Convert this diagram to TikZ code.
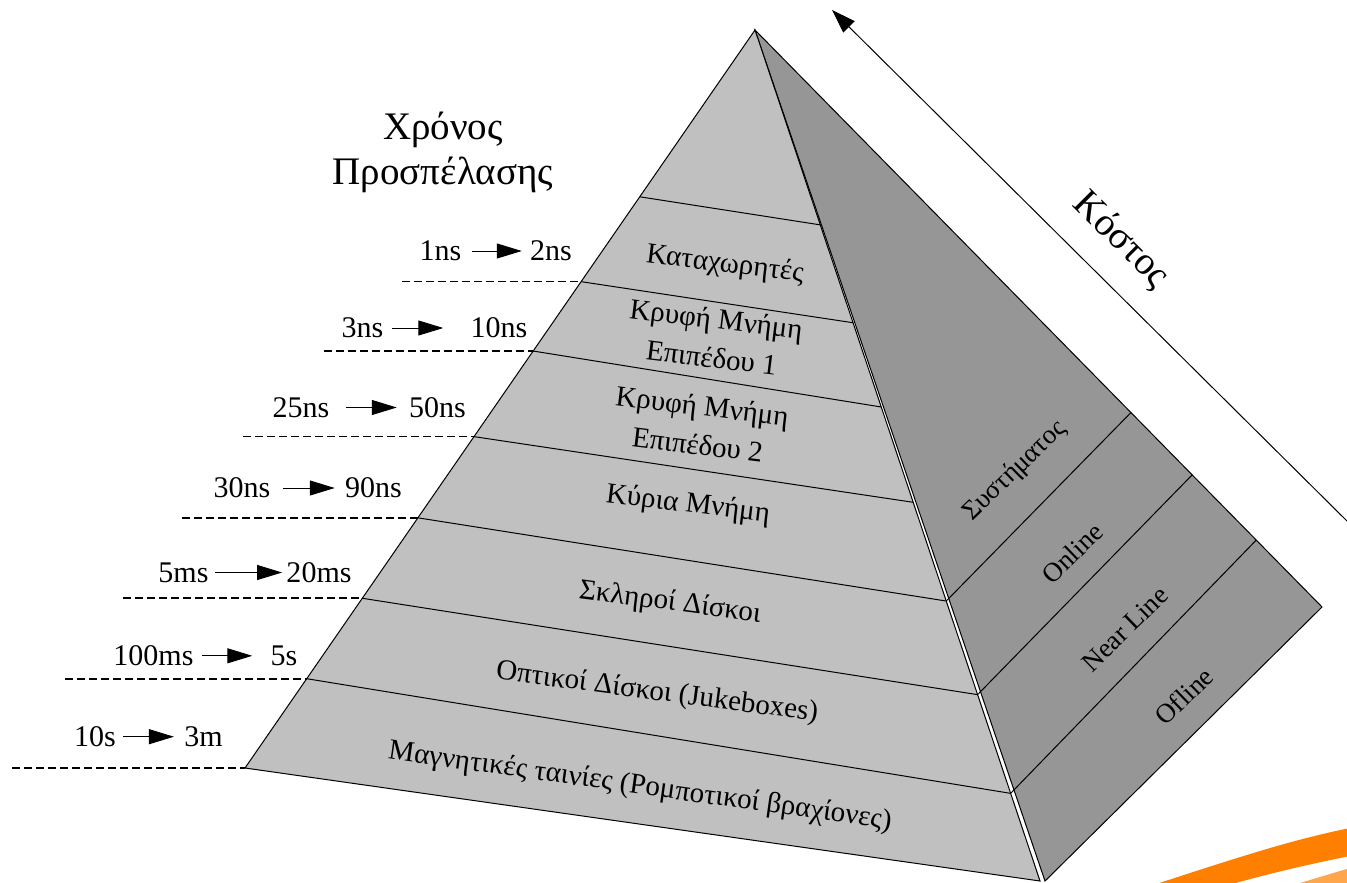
\documentclass[tikz,border=0pt]{standalone}
\usepackage{fontspec}
\setmainfont{Liberation Serif}
\usepackage{xcolor}
\usetikzlibrary{arrows.meta, calc}

\definecolor{frontgray}{RGB}{192,192,192}
\definecolor{sidegray}{RGB}{150,150,150}
\definecolor{swooshorange}{RGB}{255,128,0}

\begin{document}
\begin{tikzpicture}[x=0.5pt, y=-0.5pt,
  band/.style={align=center, font=\fontsize{14.5}{19.5}\selectfont},
  sidelabel/.style={font=\fontsize{13.5}{16}\selectfont, rotate=44},
  title/.style={align=center, font=\fontsize{19.5}{22.5}\selectfont},
  timelabel/.style={inner sep=0pt, font=\fontsize{15}{17}\selectfont},
  timearrow/.style={-{Triangle[length=12.5pt, width=7.5pt]}, line width=0.5pt},
  leader/.style={dash pattern=on 4pt off 2pt, line width=0.8pt}]
\useasboundingbox (0,0) rectangle (1347,882);
% Pyramid corners
\coordinate (top) at (755,30);
\coordinate (bl) at (245,768);
\coordinate (bf) at (1040,881);
\coordinate (bf2) at (1045,881);
\coordinate (br) at (1322,607);
% Side face
\filldraw[fill=sidegray, line width=0.5pt] (top) -- (bf2) -- (br) -- cycle;
% Front face
\filldraw[fill=frontgray, line width=0.5pt] (top) -- (bl) -- (bf) -- cycle;
% Levels on the front face
\foreach \i/\tl/\tr in {0/0.226/0.229, 1/0.341/0.344, 2/0.435/0.443, 3/0.551/0.555,
                       4/0.661/0.671, 5/0.770/0.781, 6/0.879/0.897} {
  \coordinate (lft\i) at ($(top)!\tl!(bl)$);
  \coordinate (rgt\i) at ($(top)!\tr!(bf)$);
  \draw[line width=0.5pt] (lft\i) -- (rgt\i);
}
% Levels on the side face
\foreach \i/\u in {4/0.663, 5/0.771, 6/0.884} {
  \coordinate (back\i) at ($(top)!\u!(br)$);
  \draw[line width=0.5pt] (rgt\i) -- (back\i);
}
% Dashed leaders
\foreach \i/\t/\x in {1/0.341/402, 2/0.435/324, 3/0.551/243, 4/0.661/182,
                      5/0.770/123, 6/0.879/65, 7/1/12} {
  \coordinate (edge\i) at ($(top)!\t!(bl)$);
  \coordinate (dash\i) at (\x,0);
  \draw[leader] (dash\i |- edge\i) -- (edge\i);
}
% Access times
\foreach \i/\fa/\fx/\ta/\tx/\y/\sa/\sb in {
  1/1ns/440.5/2ns/551/251/5/4,
  2/3ns/362.5/10ns/499/328/4/13.5,
  3/25ns/301/50ns/437.5/407.5/8/6,
  4/30ns/242/90ns/373.5/488/6/5,
  5/5ms/183.5/20ms/319/572.5/3/2,
  6/100ms/153.5/5s/284/655.8/4/9,
  7/10s/95/3m/203.5/736.7/3.5/5} {
  \node[timelabel] (from\i) at (\fx,\y) {\fa};
  \node[timelabel] (to\i) at (\tx,\y) {\ta};
  \draw[timearrow, shorten <=\sa pt, shorten >=\sb pt] (from\i) -- (to\i);
}
% Level names
\node[band, rotate=-7] (regs) at (725,265) {Καταχωρητές};
\node[band, rotate=-7] (cache1) at (714,338) {Κρυφή Μνήμη\\Επιπέδου 1};
\node[band, rotate=-7] (cache2) at (700,425) {Κρυφή Μνήμη\\Επιπέδου 2};
\node[band, rotate=-7] (ram) at (688,505) {Κύρια Μνήμη};
\node[band, rotate=-7.5] (disks) at (670,603) {Σκληροί Δίσκοι};
\node[band, rotate=-7.5] (optical) at (657,693) {Οπτικοί Δίσκοι (Jukeboxes)};
\node[band, rotate=-8] (tapes) at (640,787) {Μαγνητικές ταινίες (Ρομποτικοί βραχίονες)};
% Side names
\node[sidelabel] (system) at (1015,471) {Συστήματος};
\node[sidelabel] (online) at (1072,553) {Online};
\node[sidelabel] (nearline) at (1125,629) {Near Line};
\node[sidelabel] (offline) at (1184,696) {Ofline};
% Titles and cost arrow
\node[title] (access) at (443,152) {Χρόνος\\Προσπέλασης};
\coordinate (costtail) at (1350,524);
\coordinate (costtip) at (832,10);
\draw[-{Triangle[length=12pt, width=8pt]}, line width=0.5pt] (costtail) -- (costtip);
\node[title, rotate=-45] (cost) at (1121,240) {Κόστος};
% Logo swoosh
\fill[swooshorange] (1150,886) .. controls (1230,860) and (1290,840) .. (1350,828)
  -- (1350,856) .. controls (1300,866) and (1260,876) .. (1225,886) -- cycle;
\fill[swooshorange!70] (1290,886) -- (1350,868) -- (1350,886) -- cycle;
\end{tikzpicture}
\end{document}
